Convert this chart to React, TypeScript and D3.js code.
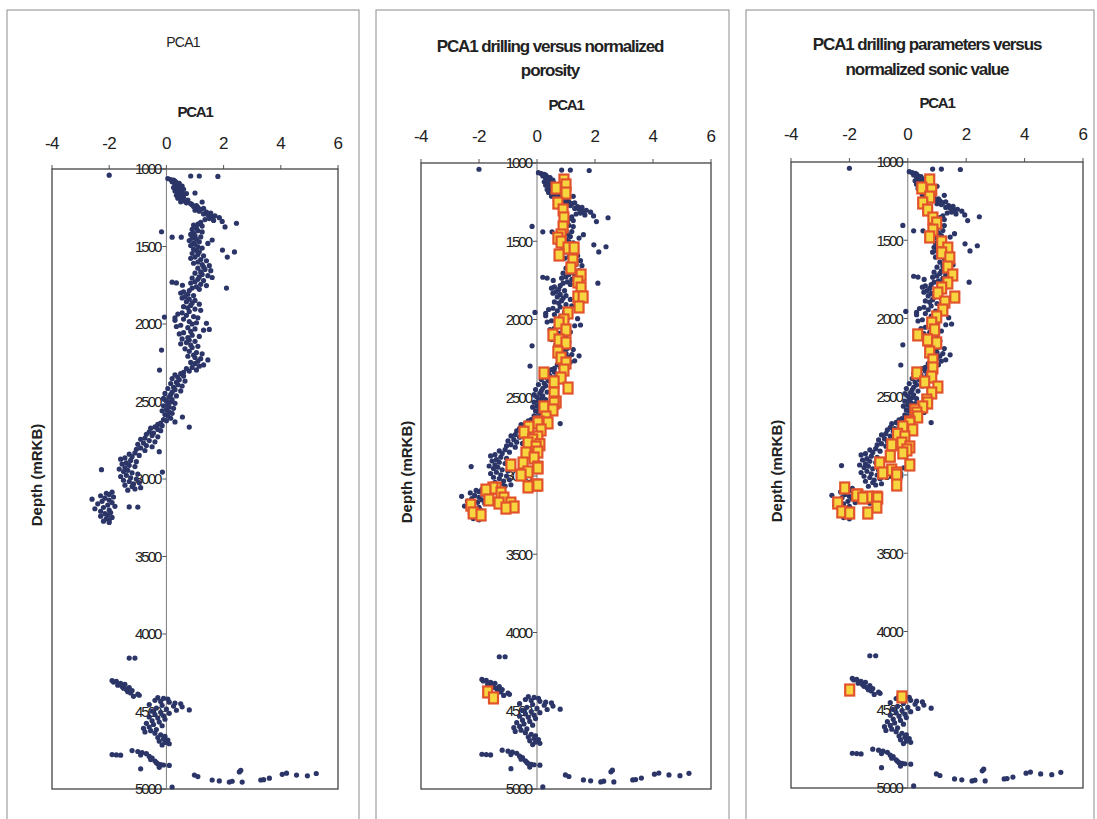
import React from "react";
import * as d3 from "d3";

// ---- Data (depth in mRKB, PCA1 value) ----
const xTicks = [-4, -2, 0, 2, 4, 6];
const depthTicks = [1000, 1500, 2000, 2500, 3000, 3500, 4000, 4500, 5000];

const titles1 = ["PCA1"];
const titles2 = ["PCA1 drilling versus normalized", "porosity"];
const titles3 = ["PCA1 drilling parameters versus", "normalized sonic value"];

// PCA1 drilling points (navy dots), [depth, pca1]
const pcaDrilling: [number, number][] = [
  [1040,-2.0],[1045,0.85],[1045,1.15],[1048,1.8],
  [1062,0.05],[1068,0.15],[1072,0.25],[1078,0.3],[1083,0.2],[1088,0.35],[1093,0.45],[1098,0.3],[1104,0.4],[1110,0.55],[1115,0.35],[1120,0.25],[1126,0.45],[1131,0.6],[1137,0.5],[1142,0.3],[1148,0.4],[1153,0.55],[1158,0.7],[1163,0.45],[1170,0.35],[1176,0.5],[1182,0.6],[1188,0.4],[1194,0.55],[1200,0.75],[1206,0.6],[1212,0.5],[1155,1.0],[1213,1.25],[1218,0.7],[1224,0.85],
  [1230,0.9],[1236,1.05],[1242,0.95],[1248,1.1],[1254,1.3],[1260,1.2],[1266,1.0],[1272,1.15],[1278,1.4],[1284,1.55],[1290,1.3],[1296,1.45],[1302,1.7],[1308,1.6],[1314,1.85],[1320,1.5],[1326,1.35],[1332,1.65],[1338,1.95],[1344,1.2],[1350,2.45],[1356,1.1],[1362,0.95],[1368,1.25],[1374,2.05],
  [1405,-0.17],[1440,0.2],[1440,0.52],
  [1382,1.05],[1390,0.9],[1398,1.1],[1406,1.25],[1414,0.95],[1422,0.85],[1430,1.0],[1438,1.2],[1446,0.9],[1454,1.05],[1462,0.8],[1470,1.15],[1478,0.95],[1486,1.0],[1494,0.85],[1502,1.1],[1510,1.25],[1518,0.95],[1526,1.05],[1534,1.15],
  [1458,1.6],[1523,1.96],[1568,2.13],[1535,2.38],[1480,1.45],
  [1545,0.9],[1552,1.1],[1560,1.3],[1568,1.0],[1576,0.85],[1584,1.2],[1592,1.4],[1600,1.1],[1608,0.95],[1616,1.25],[1624,1.5],[1632,1.3],[1640,1.1],[1648,1.35],[1656,1.55],[1664,1.2],[1672,1.0],[1680,1.25],[1688,1.45],[1696,1.15],[1704,0.9],[1712,1.1],[1720,1.3],[1728,1.0],[1736,0.85],[1744,1.2],[1752,1.4],[1760,1.05],[1768,0.9],[1776,1.15],
  [1730,0.2],[1735,0.35],[1750,0.56],[1768,2.1],[1700,1.6],
  [1784,0.8],[1792,0.6],[1800,0.5],[1808,0.75],[1816,0.95],[1824,0.65],[1832,0.55],[1840,0.8],[1848,1.0],[1856,0.7],[1864,0.9],[1872,1.15],[1880,0.85],[1888,0.6],[1896,0.75],[1904,1.0],[1912,1.2],[1920,0.8],[1928,0.55],
  [1955,-0.07],
  [1936,0.4],[1944,0.7],[1952,0.95],[1960,1.1],[1968,0.6],[1976,0.3],[1984,0.8],[1992,1.05],[2000,0.9],[2008,0.5],[2016,0.35],[2024,0.75],[2032,1.0],[2040,1.3],[2048,0.85],[2056,0.6],[2064,0.45],[2072,0.9],[2080,1.15],[2088,0.75],[2096,0.55],[2104,0.8],[2112,1.0],[2120,0.7],[2128,0.5],[2136,0.85],[2144,1.1],[2152,0.9],[2160,0.65],[2168,-0.17],[2176,0.8],[2184,1.05],[2192,1.25],[2200,0.95],[2208,0.75],[2216,1.0],[2224,1.2],[2232,1.45],[2240,1.1],[2248,0.85],[2256,1.0],[2264,1.3],[2272,1.15],[2280,0.9],[2288,0.7],[2296,1.05],[2297,-0.24],[2304,0.8],[2312,0.6],
  [1960,0.3],[2035,1.5],[1995,1.4],
  [2320,0.5],[2328,0.3],[2336,0.6],[2344,0.4],[2352,0.2],[2360,0.45],[2368,0.65],[2376,0.35],[2384,0.15],[2392,0.4],[2400,0.55],[2408,0.25],[2416,0.05],[2424,0.3],[2432,0.5],[2440,0.2],[2448,-0.05],[2456,0.15],[2464,0.35],[2472,0.1],[2480,-0.1],[2488,0.2],
  [2496,0.0],[2504,0.15],[2512,0.3],[2520,0.05],[2528,-0.1],[2536,0.1],[2544,0.25],[2552,0.0],[2560,-0.15],[2568,0.1],[2576,0.2],[2584,-0.05],[2592,0.05],[2600,0.56],[2608,0.15],[2616,-0.1],[2624,0.0],[2632,0.3],[2640,-0.2],[2665,0.8],
  [2648,-0.3],[2656,-0.15],[2664,-0.4],[2672,-0.55],[2680,-0.3],[2688,-0.2],[2696,-0.6],[2704,-0.45],[2712,-0.7],[2720,-0.5],[2728,-0.3],[2736,-0.75],[2744,-0.9],[2752,-0.6],[2760,-0.4],[2768,-0.8],[2776,-1.0],[2784,-0.7],[2792,-0.5],[2800,-0.9],[2808,-1.05],[2816,-0.75],[2824,-0.25],
  [2832,-1.1],[2840,-1.3],[2848,-0.95],[2856,-1.2],[2864,-1.45],[2872,-1.6],[2880,-1.25],[2888,-1.05],[2896,-1.4],[2904,-1.55],[2912,-1.3],[2920,-1.1],[2928,-1.45],[2936,-1.65],[2940,-2.27],[2944,-1.35],[2952,-1.5],[2955,-0.14],[2960,-1.2],[2968,-1.0],
  [2976,-1.4],[2984,-1.6],[2992,-1.25],[3000,-1.05],[3008,-1.5],[3016,-1.3],[3024,-0.95],[3032,-1.15],[3040,-1.45],[3048,-1.2],[3056,-0.9],[3064,-1.1],[3072,-1.35],
  [3085,-1.9],[3092,-2.1],[3100,-2.0],[3108,-2.3],[3116,-1.85],[3124,-2.15],[3130,-2.6],[3136,-2.0],[3144,-2.25],[3152,-1.9],[3160,-2.4],[3168,-2.05],[3176,-1.8],[3180,-1.3],[3182,-1.0],[3184,-2.2],[3192,-2.5],[3200,-2.0],[3208,-2.3],[3216,-1.95],[3224,-2.15],[3232,-2.05],[3240,-2.3],[3248,-1.9],[3256,-2.1],[3264,-2.0],[3272,-2.2],[3280,-2.0],
  [4155,-1.3],[4155,-1.1],
  [4300,-1.9],[4305,-1.75],[4310,-1.85],[4318,-1.6],[4325,-1.45],[4330,-1.7],[4338,-1.55],[4345,-1.3],[4350,-1.5],[4358,-1.4],[4365,-1.2],[4372,-1.35],[4380,-1.25],[4388,-1.0],[4395,-0.95],[4402,-1.15],
  [4410,-0.3],[4415,-0.1],[4420,0.05],[4428,-0.4],[4435,-0.2],[4440,0.1],[4445,0.3],[4450,0.5],[4455,-0.6],[4460,-0.15],[4465,0.25],[4470,0.55],[4478,-0.35],[4485,0.0],[4490,0.8],[4492,0.35],[4498,-0.5],[4505,-0.2],[4512,0.1],[4520,-0.4],[4528,-0.1],[4535,-0.6],[4542,-0.3],[4550,-0.05],
  [4560,-0.5],[4568,-0.25],[4576,-0.7],[4584,-0.45],[4592,-0.15],[4600,-0.6],[4608,-0.8],[4616,-0.35],[4624,-0.55],[4632,-0.75],[4640,-0.4],[4650,-0.2],[4660,-0.05],[4668,-0.3],[4676,-0.1],[4684,0.05],[4692,-0.25],[4700,-0.05],[4708,0.1],[4716,-0.15],
  [4778,-1.9],[4780,-1.75],[4782,-1.6],[4752,-1.2],[4758,-1.0],[4765,-0.85],[4772,-0.7],[4780,-0.9],[4790,-0.6],[4800,-0.5],[4810,-0.55],[4820,-0.4],[4830,-0.35],[4838,-0.3],[4842,-0.2],[4845,-0.1],[4848,0.1],[4860,-0.25],[4870,-0.9],
  [4910,0.98],[4920,1.1],[4942,1.6],[4948,1.85],[4955,2.2],[4950,2.3],[4890,2.55],[4880,2.6],[4955,2.65],[4942,3.3],[4940,3.4],[4930,3.6],[4905,4.05],[4898,4.2],[4910,4.55],[4915,4.93],[4900,5.24],[4987,0.2],
];

// Normalized porosity (squares), [depth, value]
const porositySquares: [number, number][] = [
  [1109,0.93],[1160,0.66],[1140,1.0],[1192,1.0],[1256,0.72],[1300,0.9],[1351,0.93],[1409,0.9],[1460,0.83],[1480,0.72],[1505,0.83],[1543,1.07],[1543,1.28],[1588,0.76],[1620,1.24],[1671,1.17],[1716,1.52],[1760,1.41],[1799,1.52],[1856,1.41],[1856,1.59],[1920,1.45],[1958,1.07],[2003,0.93],[2022,0.76],[2067,1.0],[2099,0.55],[2131,0.76],[2150,1.0],[2208,0.72],[2246,0.83],[2278,1.0],[2323,0.93],[2342,0.24],[2374,0.83],[2399,0.59],[2438,1.07],[2470,0.59],[2527,0.66],[2534,0.59],[2559,0.24],[2578,0.55],[2623,0.31],[2655,0.07],[2661,0.38],[2661,0.03],[2687,-0.28],[2706,0.14],[2720,-0.45],[2751,0.03],[2770,-0.15],[2789,-0.31],[2800,0.1],[2815,-0.03],[2847,0.03],[2853,-0.38],[2885,-0.1],[2930,-0.9],[2917,-0.48],[2943,0.03],[2949,0.03],[2974,-0.31],[2994,-0.55],[3058,-0.03],[3058,0.03],[3070,-0.31],[3077,-1.41],[3077,-1.52],[3090,-1.76],[3109,-1.24],[3141,-1.14],[3153,-1.66],[3173,-1.31],[3173,-0.9],[3198,-0.79],[3205,-1.07],[3186,-2.28],[3236,-2.2],[3249,-1.93],
  [4380,-1.7],[4418,-1.5],
];

// Normalized sonic value (squares), [depth, value]
const sonicSquares: [number, number][] = [
  [1115,0.75],[1166,0.48],[1179,0.82],[1224,0.75],[1262,0.51],[1307,0.68],[1358,0.86],[1390,0.99],[1435,0.86],[1479,0.75],[1511,1.16],[1550,1.37],[1581,1.16],[1613,1.44],[1671,1.37],[1722,1.54],[1773,1.37],[1805,1.16],[1837,1.03],[1863,1.61],[1895,1.27],[1946,1.2],[1990,0.99],[2029,0.82],[2073,0.92],[2105,0.34],[2137,0.68],[2156,0.99],[2214,0.75],[2265,0.86],[2316,0.86],[2348,0.31],[2374,0.82],[2406,0.58],[2438,1.03],[2476,0.82],[2521,0.65],[2540,0.68],[2565,0.51],[2585,0.24],[2604,0.31],[2629,0.34],[2661,0.07],[2668,0.07],[2693,-0.17],[2712,0.17],[2740,-0.35],[2757,-0.1],[2796,-0.2],[2808,-0.55],[2821,0.07],[2840,-0.03],[2859,-0.17],[2880,-0.6],[2923,-0.96],[2936,0.07],[2968,-0.55],[2987,-0.38],[2987,-0.86],[3000,-0.38],[3064,-0.38],[3083,-2.16],[3128,-1.71],[3128,-1.75],[3141,-1.37],[3141,-1.06],[3147,-1.54],[3147,-1.03],[3179,-2.4],[3205,-1.06],[3236,-2.26],[3243,-1.99],[3243,-1.37],
  [4374,-1.99],[4418,-0.2],
];

// ---- Layout ----
type Panel = {
  frame: { l: number; t: number; r: number };
  plot: { l: number; r: number; t: number; b: number };
  title: string[];
  titleBold: boolean;
  titleX: number;
  titleY: number[];
  axisTitleY: number;
  tickY: number;
  yTitleX: number;
  squares: [number, number][] | null;
};

const panels: Panel[] = [
  { frame: { l: 7, t: 10, r: 359 }, plot: { l: 52, r: 338, t: 169, b: 789 }, title: titles1, titleBold: false, titleX: 183, titleY: [47], axisTitleY: 117, tickY: 149, yTitleX: 37, squares: null },
  { frame: { l: 376, t: 10, r: 729 }, plot: { l: 421, r: 711, t: 163, b: 789 }, title: titles2, titleBold: true, titleX: 550, titleY: [52, 76], axisTitleY: 110, tickY: 142, yTitleX: 407, squares: porositySquares },
  { frame: { l: 746, t: 10, r: 1094 }, plot: { l: 791, r: 1083, t: 162, b: 788 }, title: titles3, titleBold: true, titleX: 927, titleY: [50, 75], axisTitleY: 108, tickY: 140, yTitleX: 777, squares: sonicSquares },
];

const FONT = "'Liberation Sans', Arial, Helvetica, sans-serif";
const NAVY = "#2b3567";

function PanelView({ p }: { p: Panel }) {
  const x = d3.scaleLinear().domain([-4, 6]).range([p.plot.l, p.plot.r]);
  const y = d3.scaleLinear().domain([1000, 5000]).range([p.plot.t, p.plot.b]);
  const x0 = x(0);
  const cy = (p.plot.t + p.plot.b) / 2 - 4;
  return (
    <g>
      <rect x={p.frame.l} y={p.frame.t} width={p.frame.r - p.frame.l} height={830} fill="none" stroke="#8c8c8c" strokeWidth={1} />
      {p.title.map((t, i) => (
        <text key={i} x={p.titleX} y={p.titleY[i]} textAnchor="middle" fontFamily={FONT}
          fontSize={p.titleBold ? 17 : 14} fontWeight={p.titleBold ? "bold" : "normal"}
          letterSpacing={p.titleBold ? -1.1 : -0.8} fill="#222">{t}</text>
      ))}
      <text x={(p.plot.l + p.plot.r) / 2} y={p.axisTitleY} textAnchor="middle" fontFamily={FONT} fontSize={15} fontWeight="bold" letterSpacing={-1.2} fill="#222">PCA1</text>
      {xTicks.map((v) => (
        <g key={v}>
          <text x={x(v)} y={p.tickY} textAnchor="middle" fontFamily={FONT} fontSize={17} letterSpacing={-0.5} fill="#222">{v}</text>
          <line x1={x(v)} x2={x(v)} y1={p.plot.t} y2={p.plot.t - 4} stroke="#555" strokeWidth={1} />
        </g>
      ))}
      <rect x={p.plot.l} y={p.plot.t} width={p.plot.r - p.plot.l} height={p.plot.b - p.plot.t} fill="none" stroke="#444" strokeWidth={1.3} />
      <line x1={x0} x2={x0} y1={p.plot.t} y2={p.plot.b} stroke="#7a7a7a" strokeWidth={1} />
      {depthTicks.map((d) => (
        <g key={d}>
          <line x1={x0 - 4} x2={x0} y1={y(d)} y2={y(d)} stroke="#555" strokeWidth={1} />
          <text x={x0 - 6} y={y(d)} dy="0.35em" textAnchor="end" fontFamily={FONT} fontSize={15} letterSpacing={-2} fill="#222">{d}</text>
        </g>
      ))}
      <text transform={`translate(${p.yTitleX},${cy}) rotate(-90)`} textAnchor="middle" dy="0.35em" fontFamily={FONT} fontSize={15} fontWeight="bold" fill="#222">Depth (mRKB)</text>
      {pcaDrilling.map(([d, v], i) => (
        <circle key={i} cx={x(v)} cy={y(d)} r={2.6} fill={NAVY} />
      ))}
      {p.squares && p.squares.map(([d, v], i) => (
        <rect key={"s" + i} x={x(v) - 4.5} y={y(d) - 5.5} width={9} height={11} fill="#f7d53f" stroke="#e2532b" strokeWidth={2.2} />
      ))}
    </g>
  );
}

export default function App() {
  return (
    <svg width={1097} height={819} style={{ position: "absolute", left: 0, top: 0, background: "#fff" }}>
      <rect x={0} y={0} width={1097} height={819} fill="#fff" />
      {panels.map((p, i) => <PanelView key={i} p={p} />)}
    </svg>
  );
}
